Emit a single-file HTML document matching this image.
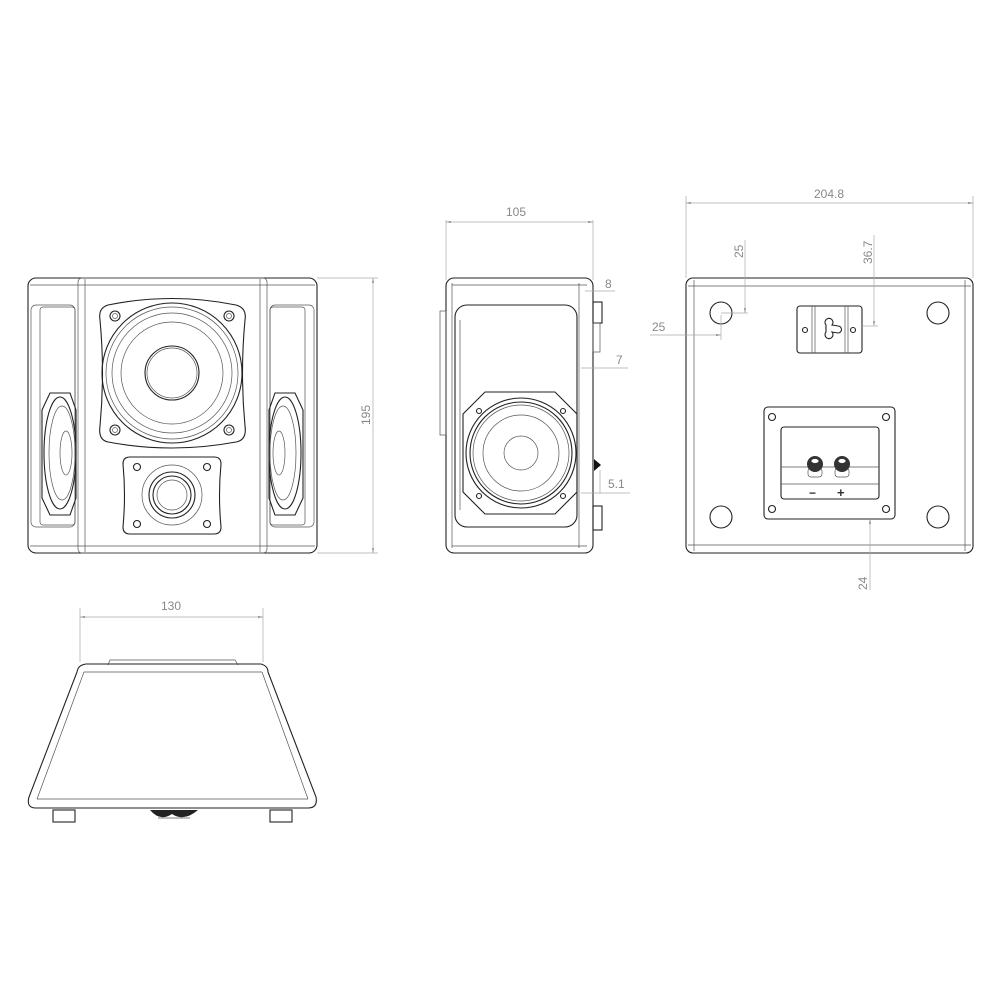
<!DOCTYPE html>
<html><head><meta charset="utf-8"><style>
html,body{margin:0;padding:0;background:#fff;}
svg{display:block}
text{font-family:"Liberation Sans",sans-serif;fill:#888;font-size:12px}
.k{fill:none;stroke:#222;stroke-width:1.1}
.t{fill:none;stroke:#555;stroke-width:0.7}
.d{fill:none;stroke:#aaa;stroke-width:0.7}
</style></head><body>
<svg width="1000" height="1000" viewBox="0 0 1000 1000" xmlns="http://www.w3.org/2000/svg">
<defs>
<marker id="a" viewBox="0 0 10 10" refX="10" refY="5" markerWidth="7" markerHeight="7" orient="auto-start-reverse"><path d="M0,3L10,5L0,7z" fill="#888"/></marker>
</defs>

<!-- FRONT VIEW -->
<rect class="k" x="28" y="278" width="289" height="275" rx="8"/>
<line class="t" x1="30" y1="285" x2="315" y2="285"/>
<line class="t" x1="30" y1="546" x2="315" y2="546"/>
<rect class="t" x="78" y="278" width="189" height="275" rx="4"/>
<line class="t" x1="85" y1="279" x2="85" y2="552"/>
<line class="t" x1="260" y1="279" x2="260" y2="552"/>
<rect class="t" x="31" y="305" width="44" height="222" rx="5"/>
<rect class="t" x="40" y="307" width="35" height="218" rx="3"/>
<rect class="t" x="270" y="305" width="44" height="222" rx="5"/>
<rect class="t" x="270" y="307" width="35" height="218" rx="3"/>
<g>
<path class="k" d="M50,393 L70,393 L76,410 L76,498 L70,515 L50,515 L42,498 L42,410 Z"/>
<ellipse class="k" cx="60" cy="453" rx="16" ry="56"/>
<ellipse class="t" cx="62" cy="453" rx="13" ry="47"/>
<ellipse class="t" cx="66" cy="453" rx="6" ry="22"/>
</g>
<g>
<path class="k" d="M275,393 L295,393 L303,410 L303,498 L295,515 L275,515 L269,498 L269,410 Z"/>
<ellipse class="k" cx="285" cy="453" rx="16" ry="56"/>
<ellipse class="t" cx="283" cy="453" rx="13" ry="47"/>
<ellipse class="t" cx="279" cy="453" rx="6" ry="22"/>
</g>
<path class="k" d="M108,305 Q172,292 236,305 Q247,308 245,320 Q240,373 245,426 Q247,440 236,442 Q172,454 108,442 Q98,440 100,426 Q105,373 100,320 Q98,308 108,305 Z"/>
<circle class="k" cx="172" cy="373" r="70"/>
<circle class="t" cx="172" cy="373" r="66"/>
<circle class="t" cx="172" cy="373" r="60"/>
<circle class="t" cx="172" cy="373" r="51"/>
<circle class="k" cx="172" cy="373" r="27"/>
<circle class="t" cx="172" cy="373" r="25"/>
<g class="k"><circle cx="115" cy="316" r="5"/><circle cx="229" cy="316" r="5"/><circle cx="115" cy="430" r="5"/><circle cx="229" cy="430" r="5"/></g>
<g class="t"><circle cx="115" cy="316" r="2.5"/><circle cx="229" cy="316" r="2.5"/><circle cx="115" cy="430" r="2.5"/><circle cx="229" cy="430" r="2.5"/></g>
<path class="k" d="M130,457 L214,457 Q221,457 221,464 Q218,495 221,527 Q221,534 214,534 L130,534 Q123,534 123,527 Q126,495 123,464 Q123,457 130,457 Z"/>
<circle class="t" cx="172" cy="495" r="30"/>
<circle class="k" cx="172" cy="495" r="23"/>
<circle class="k" cx="172" cy="495" r="19"/>
<circle class="t" cx="172" cy="495" r="15"/>
<g class="k"><circle cx="137" cy="467" r="3.5"/><circle cx="207" cy="467" r="3.5"/><circle cx="137" cy="524" r="3.5"/><circle cx="207" cy="524" r="3.5"/></g>
<line class="d" x1="317" y1="278" x2="378" y2="278"/>
<line class="d" x1="317" y1="553" x2="378" y2="553"/>
<line class="d" x1="373" y1="278" x2="373" y2="553" marker-start="url(#a)" marker-end="url(#a)"/>
<text transform="translate(370,425) rotate(-90)">195</text>

<!-- SIDE VIEW -->
<rect class="k" x="446" y="278" width="147" height="275" rx="8"/>
<line class="t" x1="452" y1="285" x2="587" y2="285"/>
<line class="t" x1="452" y1="546" x2="587" y2="546"/>
<line class="t" x1="452" y1="283" x2="452" y2="548"/>
<line class="t" x1="579" y1="283" x2="579" y2="548"/>
<rect class="t" x="440" y="311" width="6" height="124"/>
<rect class="k" x="455" y="305" width="122" height="222" rx="12"/>
<line class="t" x1="460" y1="320" x2="460" y2="510"/>
<path class="k" d="M485,392 L555,392 L577,414 L577,492 L555,514 L485,514 L463,492 L463,414 Z"/>
<circle class="k" cx="521" cy="453" r="55"/>
<circle class="k" cx="521" cy="453" r="51"/>
<circle class="t" cx="521" cy="453" r="48"/>
<circle class="t" cx="521" cy="453" r="38"/>
<circle class="t" cx="521" cy="453" r="17"/>
<g class="k"><circle cx="479" cy="411" r="2.5"/><circle cx="563" cy="411" r="2.5"/><circle cx="479" cy="496" r="2.5"/><circle cx="563" cy="496" r="2.5"/></g>
<rect class="k" x="593" y="302" width="9" height="21"/>
<rect class="t" x="593" y="323" width="7" height="29"/>
<rect class="k" x="593" y="506" width="9" height="24"/>
<path d="M594,459 L601,465 L594,471 Z" fill="#111"/>
<line class="d" x1="446" y1="220" x2="446" y2="280"/>
<line class="d" x1="593" y1="220" x2="593" y2="280"/>
<line class="d" x1="446" y1="222" x2="593" y2="222" marker-start="url(#a)" marker-end="url(#a)"/>
<text x="516" y="216" text-anchor="middle">105</text>
<line class="d" x1="585" y1="291" x2="615" y2="291"/>
<text x="605" y="288">8</text>
<line class="d" x1="581" y1="368" x2="628" y2="368"/>
<text x="616" y="364">7</text>
<line class="d" x1="581" y1="493" x2="630" y2="493"/>
<line class="d" x1="600" y1="470" x2="600" y2="493"/>
<text x="608" y="488">5.1</text>

<!-- BACK VIEW -->
<rect class="k" x="686" y="278" width="287" height="275" rx="7"/>
<line class="t" x1="688" y1="286" x2="971" y2="286"/>
<line class="t" x1="688" y1="545" x2="971" y2="545"/>
<line class="t" x1="694" y1="280" x2="694" y2="551"/>
<line class="t" x1="965" y1="280" x2="965" y2="551"/>
<g class="k" stroke-width="1.4"><circle cx="721" cy="313" r="11"/><circle cx="938" cy="313" r="11"/><circle cx="721" cy="517" r="11"/><circle cx="938" cy="517" r="11"/></g>
<rect class="k" x="797" y="306" width="65" height="47" rx="3"/>
<line class="t" x1="812" y1="306" x2="812" y2="353"/><line class="t" x1="815" y1="306" x2="815" y2="353"/>
<line class="t" x1="845" y1="306" x2="845" y2="353"/><line class="t" x1="848" y1="306" x2="848" y2="353"/>
<circle class="k" cx="805" cy="330" r="2.5"/><circle class="k" cx="853" cy="330" r="2.5"/>
<path class="k" d="M826,325 A4,4 0 1 1 832,325 L838,326 A3,3 0 0 1 838,333 L832,332 A4,4 0 1 1 826,332 Z"/>
<rect class="k" x="764" y="407" width="131" height="112" rx="4" stroke-width="1.6"/>
<rect class="k" x="781" y="427" width="98" height="72" rx="3"/>
<line class="t" x1="781" y1="467" x2="879" y2="467"/>
<line class="t" x1="781" y1="484" x2="879" y2="484"/>
<rect class="t" x="808" y="468" width="14" height="9" rx="3"/>
<rect class="t" x="835" y="468" width="14" height="9" rx="3"/>
<circle cx="815" cy="464" r="8" fill="#333"/><circle cx="842" cy="464" r="8" fill="#333"/>
<ellipse cx="815" cy="461" rx="4" ry="2.5" fill="#fff" stroke="#333" stroke-width="0.8"/>
<ellipse cx="842" cy="461" rx="4" ry="2.5" fill="#fff" stroke="#333" stroke-width="0.8"/>
<text x="809" y="497" style="fill:#333;font-size:12px;font-weight:bold">−</text>
<text x="837" y="497" style="fill:#333;font-size:13px;font-weight:bold">+</text>
<g class="k"><circle cx="772" cy="417" r="3.5"/><circle cx="886" cy="417" r="3.5"/><circle cx="772" cy="509" r="3.5"/><circle cx="886" cy="509" r="3.5"/></g>
<line class="d" x1="686" y1="196" x2="686" y2="278"/>
<line class="d" x1="973" y1="196" x2="973" y2="278"/>
<line class="d" x1="686" y1="203" x2="973" y2="203" marker-start="url(#a)" marker-end="url(#a)"/>
<text x="829" y="198" text-anchor="middle">204.8</text>
<line class="d" x1="745" y1="240" x2="745" y2="313" marker-end="url(#a)"/>
<line class="d" x1="721" y1="313" x2="748" y2="313"/>
<text transform="translate(743,258) rotate(-90)">25</text>
<line class="d" x1="874" y1="235" x2="874" y2="326" marker-end="url(#a)"/>
<line class="d" x1="862" y1="326" x2="878" y2="326"/>
<text transform="translate(872,264) rotate(-90)">36.7</text>
<line class="d" x1="650" y1="335" x2="721" y2="335" marker-end="url(#a)"/>
<line class="d" x1="721" y1="315" x2="721" y2="340"/>
<text x="652" y="331">25</text>
<line class="d" x1="870" y1="590" x2="870" y2="519" marker-end="url(#a)"/>
<text transform="translate(867,590) rotate(-90)">24</text>

<!-- BOTTOM VIEW -->
<line class="d" x1="80" y1="608" x2="80" y2="662"/>
<line class="d" x1="263" y1="608" x2="263" y2="662"/>
<line class="d" x1="80" y1="617" x2="263" y2="617" marker-start="url(#a)" marker-end="url(#a)"/>
<text x="171" y="610" text-anchor="middle">130</text>
<path class="t" d="M108,665 L110,660 L235,660 L238,665"/>
<path class="k" d="M86,664 L261,664 Q268,666 268,672 L316,797 Q318,808 308,808 L36,808 Q26,808 29,797 L77,672 Q78,665 86,664 Z"/>
<line class="t" x1="84" y1="672" x2="262" y2="672"/>
<line class="t" x1="37" y1="799" x2="308" y2="799"/>
<line class="t" x1="84" y1="672" x2="37" y2="799"/>
<line class="t" x1="262" y1="672" x2="308" y2="799"/>
<rect class="k" x="53" y="810" width="22" height="12"/>
<rect class="k" x="270" y="810" width="22" height="12"/>
<path d="M150,810 Q160,822 172,814 Q184,822 198,810 Z" fill="#222"/>
<line class="t" x1="158" y1="818" x2="190" y2="818"/>
</svg>
</body></html>
